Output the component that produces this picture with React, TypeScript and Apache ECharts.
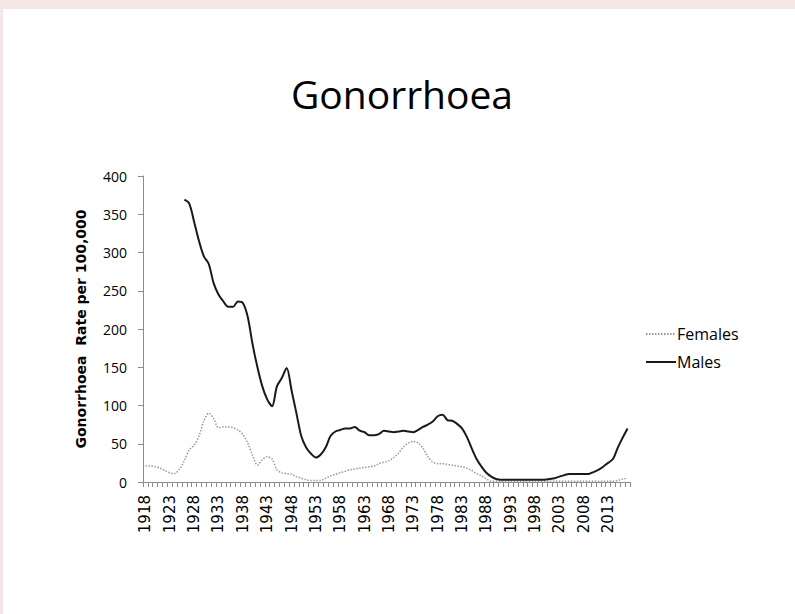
import React, { useEffect, useRef } from "react";
import * as echarts from "echarts";

const firstYear = 1918;
const lastYear = 2017;
const years: string[] = [];
for (let y = firstYear; y <= lastYear; y++) years.push(String(y));

// Rate per 100,000 (1918..2017)
const females: (number | null)[] = [
  21, 21, 20, 18, 15, 12, 11, 17, 28, 42, // 1918-1927
  48, 60, 80, 90, 83, 71, 72, 72, 71, 68, // 1928-1937
  62, 51, 35, 22, 29, 33, 30, 16, 12, 11, // 1938-1947
  10, 7, 5, 3, 2, 2, 2, 5, 8, 10, // 1948-1957
  12, 14, 16, 17, 18, 19, 20, 21, 24, 26, // 1958-1967
  28, 32, 38, 46, 51, 53, 51, 44, 33, 26, // 1968-1977
  24, 24, 23, 22, 21, 20, 18, 15, 11, 8, // 1978-1987
  4, 1, 1, 1, 1, 1, 1, 1, 1, 1, // 1988-1997
  1, 1, 1, 1, 1, 1, 1, 1, 1, 1, // 1998-2007
  1, 1, 1, 1, 1, 1, 1, 2, 4, 5, // 2008-2017
];

const males: (number | null)[] = [
  null, null, null, null, null, null, null, null, 369, 364, // 1918-1927
  340, 315, 295, 285, 260, 245, 236, 229, 229, 236, // 1928-1937
  234, 216, 180, 150, 125, 108, 99, 125, 136, 149, // 1938-1947
  120, 90, 60, 45, 37, 32, 36, 45, 60, 66, // 1948-1957
  68, 70, 70, 72, 67, 65, 61, 61, 63, 67, // 1958-1967
  66, 65, 66, 67, 66, 65, 68, 72, 75, 79, // 1968-1977
  86, 88, 81, 80, 76, 70, 59, 44, 30, 20, // 1978-1987
  12, 7, 4, 3, 3, 3, 3, 3, 3, 3, // 1988-1997
  3, 3, 3, 4, 5, 7, 9, 10.5, 10.5, 10.5, // 1998-2007
  10.5, 10.5, 13, 16, 20, 25, 30, 45, 58, 70, // 2008-2017
];

const titleText = "Gonorrhoea";
const yAxisName = "Gonorrhoea  Rate per 100,000";

export default function App() {
  const ref = useRef<HTMLDivElement>(null);
  useEffect(() => {
    if (!ref.current) return;
    const chart = echarts.init(ref.current, null, { renderer: "svg" });
    const axisColor = "#8c8c8c";
    chart.setOption({
      animation: false,
      backgroundColor: "#f6e7e7",
      graphic: [
        {
          type: "rect",
          shape: { x: 3, y: 9, width: 792, height: 605 },
          style: { fill: "#ffffff" },
          z: -10,
          silent: true,
        },
      ],
      title: {
        text: titleText,
        left: 286,
        top: 69,
        textStyle: {
          fontFamily: "Open Sans",
          fontWeight: "normal",
          fontSize: 39,
          color: "#000000",
        },
      },
      legend: {
        orient: "vertical",
        left: 640,
        top: 321,
        itemWidth: 30,
        itemHeight: 10,
        itemGap: 12,
        itemStyle: { opacity: 0 },
        textStyle: { fontFamily: "Open Sans", fontSize: 16, color: "#000", padding: [0, 0, 0, -4] },
        data: ["Females", "Males"],
      },
      grid: { left: 143, right: 165, top: 176, bottom: 132, containLabel: false },
      xAxis: {
        type: "category",
        data: years,
        boundaryGap: true,
        axisLine: { lineStyle: { color: axisColor, width: 1 } },
        axisTick: { show: true, interval: 0, length: 5, lineStyle: { color: axisColor } },
        axisLabel: {
          interval: 4,
          rotate: 90,
          margin: 13,
          fontFamily: "DejaVu Sans",
          fontSize: 15,
          color: "#000",
        },
        splitLine: { show: false },
      },
      yAxis: {
        type: "value",
        min: 0,
        max: 400,
        interval: 50,
        name: yAxisName,
        nameLocation: "middle",
        nameGap: 55,
        nameTextStyle: {
          fontFamily: "DejaVu Sans",
          fontWeight: "bold",
          fontSize: 14,
          color: "#000",
        },
        axisLine: { show: true, lineStyle: { color: axisColor, width: 1 } },
        axisTick: { show: true, length: 5, lineStyle: { color: axisColor } },
        axisLabel: { margin: 16, fontFamily: "Open Sans", fontSize: 14, color: "#000" },
        splitLine: { show: false },
      },
      series: [
        {
          name: "Females",
          type: "line",
          data: females,
          symbol: "none",
          smooth: 0.3,
          lineStyle: { color: "#9a9a9a", width: 1.5, type: [1.5, 1.5] },
          itemStyle: { color: "#9a9a9a" },
        },
        {
          name: "Males",
          type: "line",
          data: males,
          symbol: "none",
          smooth: 0.3,
          connectNulls: false,
          lineStyle: { color: "#1a1a1a", width: 2 },
          itemStyle: { color: "#1a1a1a" },
        },
      ],
    });
    return () => chart.dispose();
  }, []);
  return (
    <div
      ref={ref}
      style={{ position: "fixed", left: 0, top: 0, width: 795, height: 614 }}
    />
  );
}
